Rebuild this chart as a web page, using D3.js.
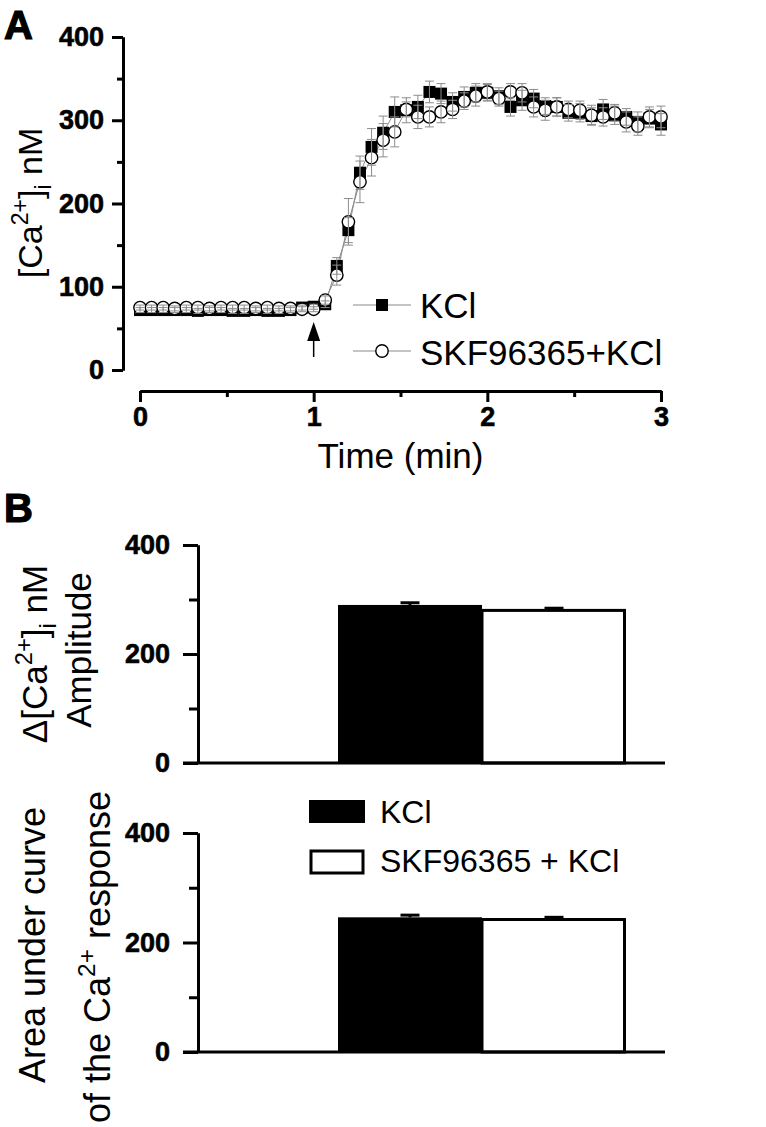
<!DOCTYPE html>
<html><head><meta charset="utf-8">
<script src="https://cdn.jsdelivr.net/npm/d3@7"></script>
<style>
body{margin:0;background:#fff}
svg{display:block}
text{font-family:"Liberation Sans",Arial,sans-serif;fill:#000}
</style>
</head><body>
<script>
// ---------- Data ----------
const timeSec = [0,4,8,12,16,20,24,28,32,36,40,44,48,52,56,60,64,68,72,76,80,84,88,92,96,100,104,108,112,116,120,124,128,132,136,140,144,148,152,156,160,164,168,172,176,180];
const kclMean = [72,72,72,72,72,71,72,72,71,71,72,71,71,72,75,76,
  79,125,168,237,268,285,310,312,316,334,332,322,328,333,333,329,316,324,326,317,316,309,309,305,313,306,304,298,302,295];
const kclSE = [3,3,3,3,3,3,3,3,3,3,3,3,3,3,3,3,
  4,10,15,20,22,20,18,15,14,13,12,11,12,11,10,10,11,12,11,10,11,10,11,10,12,11,10,12,11,13];
const skfMean = [75,75,75,74,75,75,74,75,75,75,74,75,74,74,73,73,
  84,114,178,226,255,276,286,313,304,304,310,313,323,329,334,326,334,333,316,312,316,313,312,306,304,309,298,293,304,304];
const skfSE = [3,3,3,3,3,3,3,3,3,3,3,3,3,3,3,3,
  5,12,28,25,22,20,18,9,14,12,13,11,10,12,10,9,10,11,12,12,11,10,11,12,11,10,12,11,12,13];
const timeTicks = [0,1,2,3];
const timeMinorTicks = [0.5,1.5,2.5];
const caTicks = [0,100,200,300,400];
const caMinorTicks = [50,150,250,350];
const stimulusTime = 1;

const barGroups = ["KCl","SKF96365 + KCl"];
const amplitudeMean = [290,280];
const amplitudeSE = [4,4];
const aucMean = [246,242];
const aucSE = [4,4];
const barTicks = [0,200,400];
const barMinorTicks = [100,300];

// ---------- SVG ----------
const W = 766, H = 1127;
const svg = d3.select("body").append("svg").attr("width",W).attr("height",H);

function styleAxis(g, labelSize){
  g.select(".domain").attr("stroke","#000").attr("stroke-width",3);
  g.selectAll(".tick line").attr("stroke","#000").attr("stroke-width",3);
  g.selectAll(".tick text").attr("font-size",labelSize).attr("font-weight","bold")
    .attr("font-family",'"Liberation Sans",Arial,sans-serif').attr("fill","#000")
    .attr("stroke","#000").attr("stroke-width",0.6);
}

function richText(sel, parts, size){
  const t = sel.append("text").attr("font-size",size);
  let shift = 0;
  parts.forEach(p=>{
    let target = 0, fs = size;
    if(p.sup){target = -size*0.42; fs = size*0.68;}
    if(p.sub){target = size*0.25; fs = size*0.68;}
    t.append("tspan").attr("dy",target-shift).attr("font-size",fs).text(p.t);
    shift = target;
  });
  return t;
}

// ---------- Panel A ----------
const xA = d3.scaleLinear().domain([0,3]).range([140,661]);
const yA = d3.scaleLinear().domain([0,400]).range([370,37]);
const tMin = timeSec.map(s=>s/60);

svg.append("text").attr("x",4).attr("y",39).attr("font-size",40).attr("font-weight","bold")
  .attr("stroke","#000").attr("stroke-width",1.2).text("A");

const gyA = svg.append("g").attr("transform","translate(123,0)")
  .call(d3.axisLeft(yA).tickValues(caTicks).tickSize(11).tickSizeOuter(0).tickPadding(8).tickFormat(d3.format("d")));
styleAxis(gyA,27);
const gyAm = svg.append("g").attr("transform","translate(123,0)")
  .call(d3.axisLeft(yA).tickValues(caMinorTicks).tickSize(6).tickSizeOuter(0).tickFormat(""));
styleAxis(gyAm,27);

const gxA = svg.append("g").attr("transform","translate(0,391)")
  .call(d3.axisBottom(xA).tickValues(timeTicks).tickSize(11).tickSizeOuter(0).tickPadding(5).tickFormat(d3.format("d")));
styleAxis(gxA,27);
const gxAm = svg.append("g").attr("transform","translate(0,391)")
  .call(d3.axisBottom(xA).tickValues(timeMinorTicks).tickSize(6).tickSizeOuter(0).tickFormat(""));
styleAxis(gxAm,27);

svg.append("text").attr("x",(xA(0)+xA(3))/2).attr("y",468).attr("text-anchor","middle")
  .attr("font-size",35).text("Time (min)");

richText(svg.append("g").attr("transform","translate(42,203) rotate(-90)"),
  [{t:"[Ca"},{t:"2+",sup:true},{t:"]"},{t:"i",sub:true},{t:" nM"}],34).attr("text-anchor","middle");

const kclPts = tMin.map((t,i)=>({t,m:kclMean[i],se:kclSE[i]}));
const skfPts = tMin.map((t,i)=>({t,m:skfMean[i],se:skfSE[i]}));
const lineGen = d3.line().x(d=>xA(d.t)).y(d=>yA(d.m));

svg.append("path").datum(kclPts).attr("d",lineGen).attr("fill","none").attr("stroke","#8a8a8a").attr("stroke-width",1);
svg.append("path").datum(skfPts).attr("d",lineGen).attr("fill","none").attr("stroke","#8a8a8a").attr("stroke-width",1);

const sq = 12;
svg.append("g").selectAll("rect").data(kclPts).join("rect")
  .attr("x",d=>xA(d.t)-sq/2).attr("y",d=>yA(d.m)-sq/2).attr("width",sq).attr("height",sq).attr("fill","#000");
svg.append("g").selectAll("circle").data(skfPts).join("circle")
  .attr("cx",d=>xA(d.t)).attr("cy",d=>yA(d.m)).attr("r",6.2).attr("fill","#fff").attr("stroke","#000").attr("stroke-width",1.4);

function errBars(pts){
  const g = svg.append("g").attr("stroke","#8c8c8c").attr("stroke-width",1).attr("fill","none");
  pts.forEach(d=>{
    const cx = xA(d.t), y1 = yA(d.m+d.se), y2 = yA(d.m-d.se);
    g.append("line").attr("x1",cx).attr("x2",cx).attr("y1",y1).attr("y2",y2);
    g.append("line").attr("x1",cx-4.5).attr("x2",cx+4.5).attr("y1",y1).attr("y2",y1);
    g.append("line").attr("x1",cx-4.5).attr("x2",cx+4.5).attr("y1",y2).attr("y2",y2);
  });
}
errBars(kclPts);
errBars(skfPts);

// stimulus arrow
const ax = xA(stimulusTime);
svg.append("line").attr("x1",ax).attr("x2",ax).attr("y1",357).attr("y2",338).attr("stroke","#000").attr("stroke-width",1.5);
svg.append("path").attr("d",`M${ax},322L${ax-6.5},341L${ax+6.5},341Z`).attr("fill","#000");

// legend A
svg.append("line").attr("x1",353).attr("x2",411).attr("y1",305).attr("y2",305).attr("stroke","#8a8a8a").attr("stroke-width",1);
svg.append("rect").attr("x",382-6).attr("y",305-6).attr("width",12).attr("height",12).attr("fill","#000");
svg.append("text").attr("x",420).attr("y",318).attr("font-size",35).text("KCl");
svg.append("line").attr("x1",353).attr("x2",411).attr("y1",351).attr("y2",351).attr("stroke","#8a8a8a").attr("stroke-width",1);
svg.append("circle").attr("cx",382).attr("cy",351).attr("r",6.2).attr("fill","#fff").attr("stroke","#000").attr("stroke-width",1.4);
svg.append("text").attr("x",420).attr("y",365).attr("font-size",35).text("SKF96365+KCl");

// ---------- Panel B ----------
svg.append("text").attr("x",4).attr("y",522).attr("font-size",40).attr("font-weight","bold")
  .attr("stroke","#000").attr("stroke-width",1.2).text("B");

const xB = d3.scaleBand().domain(barGroups).range([338,626]).padding(0);

function barPanel(yScale, means, ses){
  const gy = svg.append("g").attr("transform","translate(198,0)")
    .call(d3.axisLeft(yScale).tickValues(barTicks).tickSize(15).tickSizeOuter(0).tickPadding(13).tickFormat(d3.format("d")));
  styleAxis(gy,27);
  const gym = svg.append("g").attr("transform","translate(198,0)")
    .call(d3.axisLeft(yScale).tickValues(barMinorTicks).tickSize(9).tickSizeOuter(0).tickFormat(""));
  styleAxis(gym,27);
  barGroups.forEach((g,i)=>{
    const x0 = xB(g), bw = xB.bandwidth();
    if(i===0){
      svg.append("rect").attr("x",x0).attr("y",yScale(means[i])).attr("width",bw)
        .attr("height",yScale(0)-yScale(means[i])).attr("fill","#000");
    } else {
      svg.append("rect").attr("x",x0).attr("y",yScale(means[i])).attr("width",bw-1.5)
        .attr("height",yScale(0)-yScale(means[i])).attr("fill","#fff").attr("stroke","#000").attr("stroke-width",3);
    }
    const cx = x0+bw/2, yt = yScale(means[i]+ses[i]);
    svg.append("line").attr("x1",cx).attr("x2",cx).attr("y1",yScale(means[i])).attr("y2",yt).attr("stroke","#000").attr("stroke-width",3);
    svg.append("line").attr("x1",cx-9.5).attr("x2",cx+9.5).attr("y1",yt).attr("y2",yt).attr("stroke","#000").attr("stroke-width",3);
  });
  svg.append("line").attr("x1",183).attr("x2",665).attr("y1",yScale(0)).attr("y2",yScale(0)).attr("stroke","#000").attr("stroke-width",3);
}

const yAmp = d3.scaleLinear().domain([0,400]).range([763,545]);
const yAuc = d3.scaleLinear().domain([0,400]).range([1052,833]);
barPanel(yAmp, amplitudeMean, amplitudeSE);
barPanel(yAuc, aucMean, aucSE);

richText(svg.append("g").attr("transform","translate(47,654) rotate(-90)"),
  [{t:"\u0394[Ca"},{t:"2+",sup:true},{t:"]"},{t:"i",sub:true},{t:" nM"}],35).attr("text-anchor","middle");
svg.append("text").attr("transform","translate(91,650) rotate(-90)").attr("text-anchor","middle")
  .attr("font-size",35).text("Amplitude");
svg.append("text").attr("transform","translate(45,945) rotate(-90)").attr("text-anchor","middle")
  .attr("font-size",36).text("Area under curve");
richText(svg.append("g").attr("transform","translate(110,957) rotate(-90)"),
  [{t:"of the Ca"},{t:"2+",sup:true},{t:" response"}],36).attr("text-anchor","middle");

// legend B
svg.append("rect").attr("x",309).attr("y",800).attr("width",56).attr("height",23).attr("fill","#000");
svg.append("text").attr("x",380).attr("y",823).attr("font-size",32).text(barGroups[0]);
svg.append("rect").attr("x",311).attr("y",851).attr("width",52).attr("height",22).attr("fill","#fff").attr("stroke","#000").attr("stroke-width",3);
svg.append("text").attr("x",380).attr("y",872).attr("font-size",32).text(barGroups[1]);
</script>
</body></html>
